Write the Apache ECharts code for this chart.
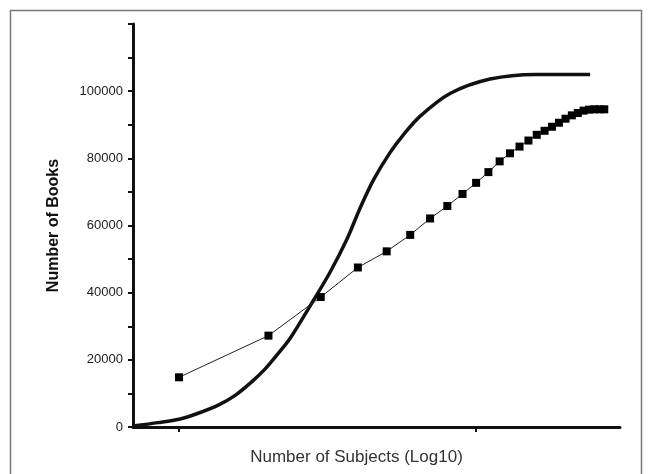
<!DOCTYPE html>
<html>
<head>
<meta charset="utf-8">
<script src="https://cdn.jsdelivr.net/npm/echarts@6/dist/echarts.min.js"></script>
<style>
html, body { margin: 0; padding: 0; background: #fff; }
#main { width: 652px; height: 474px; }
</style>
</head>
<body>
<div id="main"></div>
<script>
// squares: number of subjects vs number of books
var subjects = [10, 20, 30, 40, 50, 60, 70, 80, 90, 100, 110, 120, 130, 140, 150,
    160, 170, 180, 190, 200, 210, 220, 230, 240, 250, 260, 270];
var books = [14800, 27200, 38700, 47500, 52300, 57200, 62100, 65800, 69400, 72700,
    75900, 79100, 81500, 83500, 85300, 87000, 88200, 89400, 90600, 91800,
    92800, 93500, 94200, 94500, 94600, 94600, 94600];

// thick smooth curve
var curveX = [7, 8.5, 10, 11.6, 13.6, 15.5, 17.6, 19.5, 21.3, 23.7, 27.6, 32.2,
    36.7, 40.6, 45.1, 51.3, 56.9, 64.7, 81.7, 111.4, 158.5, 242];
var curveY = [300, 1300, 2300, 4100, 6600, 9500, 13500, 17300, 21300, 26500, 36000,
    46000, 55800, 65000, 73500, 81700, 87000, 92500, 99300, 103600, 105000, 105000];

var xTicks = [10, 100];

function pairs(xs, ys) {
    var out = [];
    for (var i = 0; i < xs.length; i++) out.push([xs[i], ys[i]]);
    return out;
}

var dom = document.getElementById("main");
var myChart = echarts.init(dom);
var font = '"Liberation Sans", Arial, sans-serif';

var option = {
    animation: false,
    backgroundColor: '#fff',
    graphic: [{
        type: 'rect',
        shape: { x: 10.5, y: 10.5, width: 631, height: 470 },
        style: { fill: 'none', stroke: '#777', lineWidth: 1.5 }
    }],
    grid: { left: 133, right: 32, top: 24, bottom: 47 },
    xAxis: {
        type: 'log',
        logBase: 10,
        min: 7,
        max: 305,
        name: 'Number of Subjects (Log10)',
        nameLocation: 'middle',
        nameGap: 22,
        nameTextStyle: { fontFamily: font, fontSize: 17, color: '#333', padding: [0, 40, 0, 0] },
        axisLine: { lineStyle: { color: '#111', width: 3 } },
        axisTick: { show: true, customValues: xTicks, length: 5, lineStyle: { color: '#111', width: 2 } },
        axisLabel: { show: false },
        splitLine: { show: false }
    },
    yAxis: {
        type: 'value',
        min: 0,
        max: 120000,
        interval: 10000,
        name: 'Number of Books',
        nameLocation: 'middle',
        nameGap: 71,
        nameTextStyle: { fontFamily: font, fontSize: 16, fontWeight: 'bold', color: '#111' },
        axisLine: { show: true, lineStyle: { color: '#111', width: 3 } },
        axisTick: { show: true, length: 5, lineStyle: { color: '#111', width: 2 } },
        axisLabel: {
            fontFamily: font, fontSize: 13, color: '#222', margin: 10,
            formatter: function (v) { return (v % 20000 === 0 && v <= 100000) ? String(v) : ''; }
        },
        splitLine: { show: false }
    },
    series: [
        {
            name: 'curve',
            type: 'line',
            data: pairs(curveX, curveY),
            smooth: 0.3,
            showSymbol: false,
            symbol: 'none',
            lineStyle: { color: '#111', width: 3.5 },
            z: 3
        },
        {
            name: 'books',
            type: 'line',
            data: pairs(subjects, books),
            symbol: 'rect',
            symbolSize: 8,
            itemStyle: { color: '#000' },
            lineStyle: { color: '#222', width: 1 },
            z: 4
        }
    ]
};
myChart.setOption(option, true);
</script>
</body>
</html>
